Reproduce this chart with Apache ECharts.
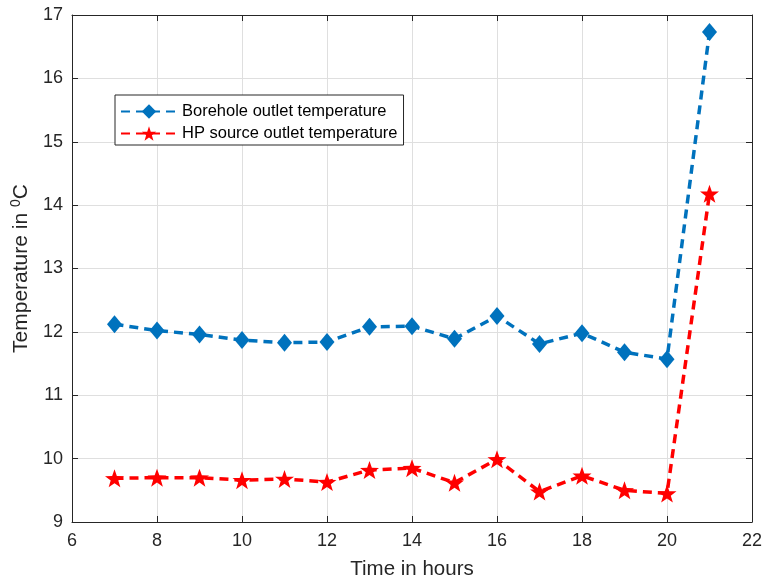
<!DOCTYPE html>
<html>
<head>
<meta charset="utf-8">
<script src="https://cdn.jsdelivr.net/npm/echarts@6/dist/echarts.min.js"></script>
<style>
html,body{margin:0;padding:0;background:#fff;}
#chart{width:766px;height:586px;}
</style>
</head>
<body>
<div id="chart"></div>
<script>
const hours = [7, 8, 9, 10, 11, 12, 13, 14, 15, 16, 17, 18, 19, 20, 21];
const boreholeOutlet = [12.12, 12.02, 11.96, 11.87, 11.83, 11.84, 12.08, 12.09, 11.89, 12.25, 11.81, 11.98, 11.68, 11.57, 16.73];
const hpSourceOutlet = [9.69, 9.70, 9.70, 9.66, 9.68, 9.63, 9.82, 9.85, 9.62, 9.99, 9.48, 9.73, 9.50, 9.45, 14.18];
const seriesNames = ['Borehole outlet temperature', 'HP source outlet temperature'];
const xTitle = 'Time in hours';

const axisColor = '#262626';
const font = 'Liberation Sans, Arial, sans-serif';
const starPath = 'path://M0,-10 L2.35,-3.24 L9.51,-3.09 L3.8,1.24 L5.88,8.09 L0,4 L-5.88,8.09 L-3.8,1.24 L-9.51,-3.09 L-2.35,-3.24 Z';

const chart = echarts.init(document.getElementById('chart'), null, {renderer: 'canvas'});
const pairs = (ys) => hours.map((h, i) => [h, ys[i]]);

const tickStyle = {show: true, inside: true, length: 6, lineStyle: {color: axisColor, width: 1}};
const lineAx = {show: true, lineStyle: {color: axisColor, width: 1}};

chart.setOption({
  animation: false,
  backgroundColor: '#fff',
  textStyle: {fontFamily: font},
  grid: {left: 72, right: 14, top: 15, bottom: 64, containLabel: false},
  legend: {
    orient: 'vertical',
    left: 115, top: 95,
    itemWidth: 56, itemHeight: 18, itemGap: 5,
    padding: [8, 6, 3, 5],
    borderColor: axisColor, borderWidth: 1,
    backgroundColor: '#fff',
    textStyle: {fontSize: 16.5, color: '#000', fontFamily: font},
    data: seriesNames
  },
  xAxis: [{
    type: 'value', min: 6, max: 22, interval: 2,
    name: xTitle, nameLocation: 'middle', nameGap: 37,
    nameTextStyle: {fontSize: 20.5, color: axisColor, fontFamily: font},
    axisLine: lineAx, axisTick: tickStyle,
    axisLabel: {fontSize: 18, color: axisColor, margin: 10, fontFamily: font},
    splitLine: {show: true, lineStyle: {color: '#dfdfdf', width: 1}}
  }, {
    type: 'value', min: 6, max: 22, interval: 2, position: 'top',
    axisLine: lineAx, axisTick: tickStyle, axisLabel: {show: false}, splitLine: {show: false}
  }],
  yAxis: [{
    type: 'value', min: 9, max: 17, interval: 1,
    name: 'Temperature in {sup|0}C', nameLocation: 'middle', nameGap: 31,
    nameTextStyle: {fontSize: 21, color: axisColor, fontFamily: font,
      rich: {sup: {fontSize: 14, verticalAlign: 'bottom', padding: [0, 0, 11, 0], color: axisColor, fontFamily: font}}},
    axisLine: lineAx, axisTick: tickStyle,
    axisLabel: {fontSize: 18, color: axisColor, margin: 9, fontFamily: font},
    splitLine: {show: true, lineStyle: {color: '#dfdfdf', width: 1}}
  }, {
    type: 'value', min: 9, max: 17, interval: 1, position: 'right',
    axisLine: lineAx, axisTick: tickStyle, axisLabel: {show: false}, splitLine: {show: false}
  }],
  series: [{
    name: seriesNames[0], type: 'line',
    data: pairs(boreholeOutlet),
    symbol: 'diamond', symbolSize: [15, 18],
    itemStyle: {color: '#0072BD'},
    lineStyle: {color: '#0072BD', width: 3.5, type: [9, 6]},
    z: 3
  }, {
    name: seriesNames[1], type: 'line',
    data: pairs(hpSourceOutlet),
    symbol: starPath, symbolSize: [19, 18],
    itemStyle: {color: '#FF0000'},
    lineStyle: {color: '#FF0000', width: 3.5, type: [9, 6]},
    z: 3
  }]
});
</script>
</body>
</html>
